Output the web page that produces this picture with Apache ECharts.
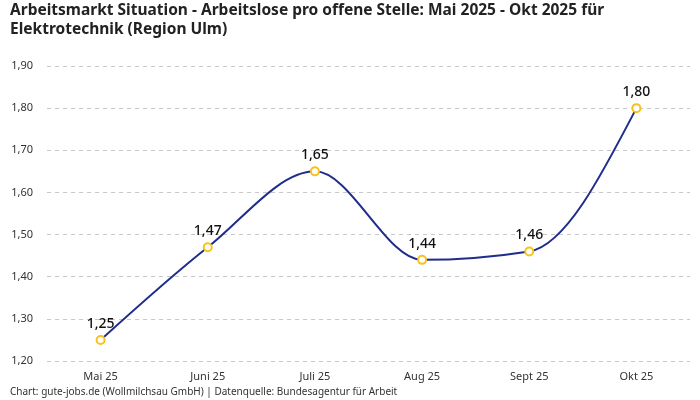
<!DOCTYPE html>
<html><head><meta charset="utf-8">
<script src="https://cdn.jsdelivr.net/npm/echarts@6/dist/echarts.min.js"></script>
<style>html,body{margin:0;padding:0;background:#fff}#c{width:700px;height:400px}</style>
</head><body><div id="c"></div>
<script>
const categories = ["Mai 25", "Juni 25", "Juli 25", "Aug 25", "Sept 25", "Okt 25"];
const values = [1.25, 1.47, 1.65, 1.44, 1.46, 1.80];
const yTicks = [1.20, 1.30, 1.40, 1.50, 1.60, 1.70, 1.80, 1.90];
const titleText = "Arbeitsmarkt Situation - Arbeitslose pro offene Stelle: Mai 2025 - Okt 2025 für\nElektrotechnik (Region Ulm)";
const footerText = "Chart: gute-jobs.de (Wollmilchsau GmbH) | Datenquelle: Bundesagentur für Arbeit";
const fmt = v => v.toFixed(2).replace('.', ',');
const FONT = "'Noto Sans', sans-serif";
const LINE_COLOR = '#1f2d8c';

// monotone cubic (Fritsch-Carlson, as in d3 curveMonotoneX) tangents in pixel space
function tangents(pts) {
  const n = pts.length, s = [], t = new Array(n);
  for (let i = 0; i < n - 1; i++) s.push((pts[i+1][1] - pts[i][1]) / (pts[i+1][0] - pts[i][0]));
  for (let i = 1; i < n - 1; i++) {
    const h0 = pts[i][0] - pts[i-1][0], h1 = pts[i+1][0] - pts[i][0];
    const s0 = s[i-1], s1 = s[i];
    const p = (s0 * h1 + s1 * h0) / (h0 + h1);
    t[i] = (Math.sign(s0) + Math.sign(s1)) * Math.min(Math.abs(s0), Math.abs(s1), 0.5 * Math.abs(p)) || 0;
  }
  t[0] = (3 * s[0] - t[1]) / 2;
  t[n-1] = (3 * s[n-2] - t[n-2]) / 2;
  return t;
}

const chart = echarts.init(document.getElementById('c'));
chart.setOption({
  animation: false,
  textStyle: { fontFamily: FONT },
  title: [{
    text: titleText, left: 10, top: 1, padding: 0,
    textStyle: { fontSize: 15.5, fontWeight: 'bold', color: '#222', lineHeight: 19, fontFamily: FONT }
  }, {
    text: footerText, left: 10, top: 387, padding: 0,
    textStyle: { fontSize: 10, fontWeight: 'normal', color: '#333', fontFamily: FONT }
  }],
  grid: { left: 47, right: 10, top: 66, bottom: 39 },
  xAxis: {
    type: 'category', data: categories, boundaryGap: true,
    axisLine: { show: false }, axisTick: { show: false },
    axisLabel: { color: '#333', fontSize: 11, margin: 10, fontFamily: FONT }
  },
  yAxis: {
    type: 'value', min: yTicks[0], max: yTicks[yTicks.length - 1], interval: 0.1,
    axisLine: { show: false }, axisTick: { show: false },
    splitLine: { lineStyle: { type: [4, 4], color: '#c8c8c8', width: 1 } },
    axisLabel: { color: '#333', fontSize: 11, margin: 14, formatter: v => fmt(v), fontFamily: FONT }
  },
  series: [{
    type: 'custom', z: 2,
    data: values.map((v, i) => [i, v]),
    encode: { x: 0, y: 1 },
    renderItem: function (params, api) {
      const i = params.dataIndex;
      if (i >= values.length - 1) return null;
      const pts = values.map((v, k) => api.coord([k, v]));
      const t = tangents(pts);
      const a = pts[i], b = pts[i+1], dx = (b[0] - a[0]) / 3;
      return {
        type: 'bezierCurve',
        shape: { x1: a[0], y1: a[1], x2: b[0], y2: b[1],
          cpx1: a[0] + dx, cpy1: a[1] + dx * t[i],
          cpx2: b[0] - dx, cpy2: b[1] - dx * t[i+1] },
        style: { stroke: LINE_COLOR, lineWidth: 2, fill: null }
      };
    }
  }, {
    type: 'line', data: values, z: 3,
    lineStyle: { width: 0, opacity: 0 },
    symbol: 'circle', symbolSize: 8,
    itemStyle: { color: '#fff', borderColor: '#f7c21b', borderWidth: 2 },
    label: { show: true, position: 'top', distance: 4, color: '#111', fontSize: 14, fontWeight: 500,
      formatter: p => fmt(p.value), fontFamily: FONT }
  }]
});
</script></body></html>
